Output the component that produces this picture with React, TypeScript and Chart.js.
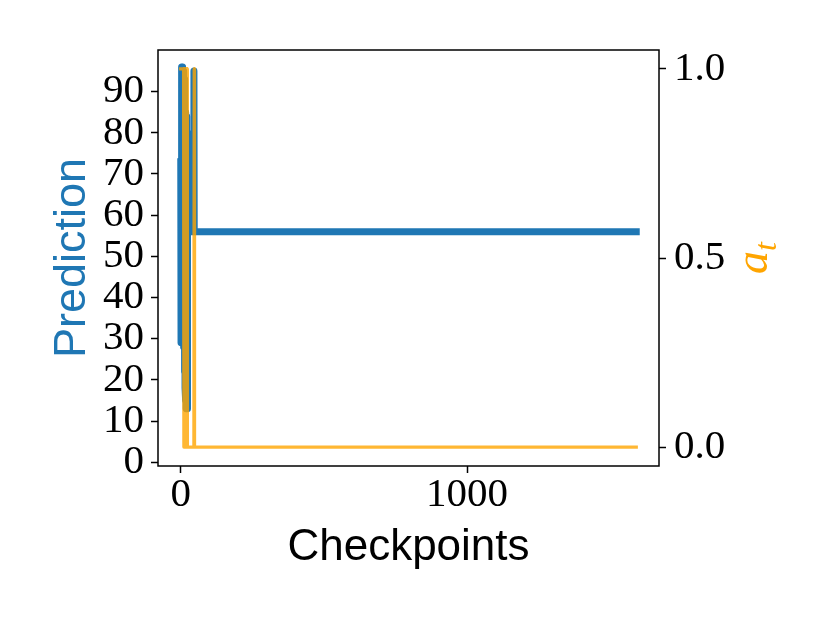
import React, { useEffect, useRef } from 'react';
import { Chart, registerables } from 'chart.js';

Chart.register(...registerables);

// ---- data ----
const predictionCheckpoints = [0, 1, 2, 3, 4, 5, 6, 7, 8, 9, 10, 11, 12, 13, 14, 15, 16, 17, 18, 19, 20, 21, 22, 23, 24, 45, 46, 47, 1591];
const predictionValues = [73, 29, 96, 35, 94, 30, 96, 40, 92, 28, 95, 30, 90, 22, 93, 18, 85, 15, 82, 13, 84, 14, 80, 13, 56, 56, 95, 56, 56];

const atCheckpoints = [0, 10, 11, 12, 13, 14, 15, 16, 17, 18, 19, 20, 22, 23, 46, 47, 48, 1591];
const atValues = [1, 1, 0, 1, 0, 1, 0, 1, 0, 1, 0, 1, 1, 0, 0, 1, 0, 0];

const leftTicks = [0, 10, 20, 30, 40, 50, 60, 70, 80, 90];
const rightTicks = [0, 0.5, 1.0];
const xTicks = [0, 1000];

const BLUE = '#1f77b4';
const ORANGE = 'rgba(255,165,0,0.8)';
const ORANGE_LABEL = '#FFA500';

const framePlugin = {
  id: 'frame',
  afterDraw(chart: any) {
    const { ctx, chartArea } = chart;
    ctx.save();
    ctx.strokeStyle = '#000';
    ctx.lineWidth = 1.5;
    ctx.strokeRect(chartArea.left, chartArea.top, chartArea.right - chartArea.left, chartArea.bottom - chartArea.top);
    // a_t label on the right
    const cx = 767;
    const cy = (chartArea.top + chartArea.bottom) / 2;
    ctx.translate(cx, cy);
    ctx.rotate(-Math.PI / 2);
    ctx.fillStyle = ORANGE_LABEL;
    ctx.textBaseline = 'alphabetic';
    ctx.textAlign = 'left';
    const f1 = 'italic 46px "Liberation Serif"';
    const f2 = 'italic 32px "Liberation Serif"';
    ctx.font = f1;
    const wa = ctx.measureText('a').width;
    ctx.font = f2;
    const wt = ctx.measureText('t').width;
    const start = -(wa + wt) / 2;
    ctx.font = f1;
    ctx.fillText('a', start, 0);
    ctx.font = f2;
    ctx.fillText('t', start + wa, 9);
    ctx.restore();
  },
};

const tickFont = { family: '"Liberation Serif", serif', size: 41, lineHeight: 1 };

export default function App() {
  const ref = useRef<HTMLCanvasElement | null>(null);
  useEffect(() => {
    if (!ref.current) return;
    const chart = new Chart(ref.current, {
      type: 'line',
      data: {
        datasets: [
          {
            label: 'a_t',
            data: atCheckpoints.map((c, i) => ({ x: c, y: atValues[i] })),
            borderColor: ORANGE,
            borderWidth: 3.3,
            pointRadius: 0,
            tension: 0,
            yAxisID: 'y1',
            order: 0,
            borderCapStyle: 'square',
            borderJoinStyle: 'round',
          },
          {
            label: 'Prediction',
            data: predictionCheckpoints.map((c, i) => ({ x: c, y: predictionValues[i] })),
            borderColor: BLUE,
            borderWidth: 7,
            pointRadius: 0,
            tension: 0,
            yAxisID: 'y',
            order: 1,
            borderCapStyle: 'square',
            borderJoinStyle: 'round',
          },
        ],
      },
      options: {
        animation: false,
        responsive: false,
        maintainAspectRatio: false,
        layout: { padding: { top: 50, left: 0, right: 0, bottom: 0 } },
        plugins: { legend: { display: false }, tooltip: { enabled: false } },
        scales: {
          x: {
            type: 'linear',
            position: 'bottom',
            min: -79.5,
            max: 1670.5,
            afterBuildTicks: (s: any) => { s.ticks = xTicks.map((v) => ({ value: v })); },
            afterFit: (s: any) => { s.height = 157; },
            border: { display: false },
            grid: { drawOnChartArea: false, drawTicks: true, tickLength: 7, tickColor: '#000', tickWidth: 1.5 },
            ticks: { color: '#000', font: tickFont, padding: 2, maxRotation: 0, callback: (v: any) => String(v) },
            title: {
              display: true,
              text: 'Checkpoints',
              color: '#000',
              font: { family: '"Liberation Sans", sans-serif', size: 44, lineHeight: 1 },
              padding: { top: 0, bottom: 53 },
            },
          },
          y: {
            type: 'linear',
            position: 'left',
            min: -0.9,
            max: 100.1,
            afterBuildTicks: (s: any) => { s.ticks = leftTicks.map((v) => ({ value: v })); },
            afterFit: (s: any) => { s.width = 158; },
            border: { display: false },
            grid: { drawOnChartArea: false, drawTicks: true, tickLength: 7, tickColor: '#000', tickWidth: 1.5 },
            ticks: { color: '#000', font: tickFont, padding: 7, callback: (v: any) => String(v) },
            title: {
              display: true,
              text: 'Prediction',
              color: BLUE,
              font: { family: '"Liberation Sans", sans-serif', size: 45, lineHeight: 1 },
              padding: { top: 50, bottom: 0 },
            },
          },
          y1: {
            type: 'linear',
            position: 'right',
            min: -0.05,
            max: 1.05,
            afterBuildTicks: (s: any) => { s.ticks = rightTicks.map((v) => ({ value: v })); },
            afterFit: (s: any) => { s.width = 171; },
            border: { display: false },
            grid: { drawOnChartArea: false, drawTicks: true, tickLength: 7, tickColor: '#000', tickWidth: 1.5 },
            ticks: { color: '#000', font: tickFont, padding: 8, callback: (v: any) => Number(v).toFixed(1) },
          },
        },
      } as any,
      plugins: [framePlugin],
    });
    return () => chart.destroy();
  }, []);
  return (
    <div style={{ position: 'absolute', left: 0, top: 0, width: 830, height: 623, background: '#fff' }}>
      <canvas ref={ref} width={830} height={623} style={{ width: 830, height: 623 }} />
    </div>
  );
}
